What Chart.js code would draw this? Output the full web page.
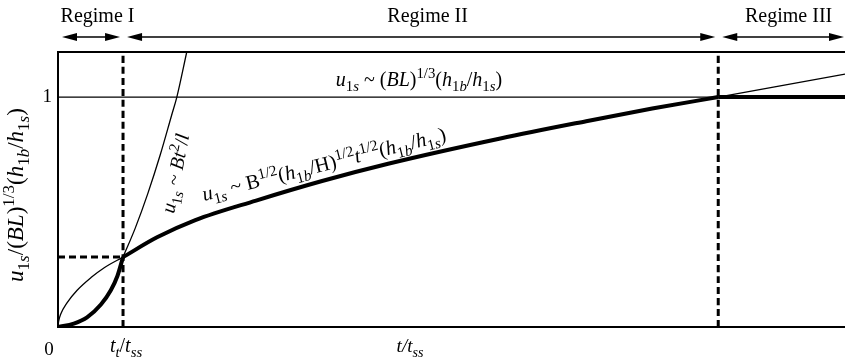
<!DOCTYPE html>
<html>
<head>
<meta charset="utf-8">
<script src="https://cdn.jsdelivr.net/npm/chart.js@4"></script>
<style>
  html, body { margin: 0; background: #fff; }
  canvas { display: block; }
</style>
</head>
<body>
<canvas id="chart" width="845" height="361"></canvas>
<script>
// time in units of t_ss, velocity in units of (BL)^1/3 (h1b/h1s)
const tTransition = 0.0985;
const tEnd = 1.192;
const uTransition = 0.304;
const uTop = 1.196;

const thickRegime1 = [[0, 0], [0.024, 0.015], [0.044, 0.042], [0.065, 0.098], [0.08, 0.16], [0.09, 0.222], [0.0985, 0.304]];
const thickRegime2 = [[0.0985, 0.304], [0.15, 0.39], [0.208, 0.465], [0.3, 0.55], [0.4, 0.635], [0.5, 0.71], [0.67, 0.82], [0.8, 0.895], [0.9, 0.95], [1, 1]];
const thickRegime3 = [[1, 1], [1.192, 1]];
const thinEarly = [[0, 0], [0.001, 0.025], [0.004, 0.055], [0.0136, 0.105], [0.029, 0.16], [0.05, 0.215], [0.07, 0.258], [0.0985, 0.304]];
const thinSteep = [[0.0985, 0.304], [0.117, 0.43], [0.136, 0.58], [0.155, 0.75], [0.172, 0.92], [0.18, 1.0], [0.195, 1.196]];
const thinLate = [[1, 1], [1.192, 1.1]];
const plateauLine = [[0, 1], [1.192, 1]];

const regimeLabels = ["Regime I", "Regime II", "Regime III"];
const regimeEdges = [0, 0.0985, 1, 1.192];

const FONT = '"Liberation Serif", "DejaVu Serif", serif';
const SMALL = 0.74;

// rich text runs: [text, "i" for italic, "b" subscript / "p" superscript]
const yTitle = [["u", "i"], ["1", "", "b"], ["s", "i", "b"], ["/(", ""], ["BL", "i"], [")", ""], ["1/3", "", "p"], ["(", ""], ["h", "i"], ["1", "", "b"], ["b", "i", "b"], ["/", ""], ["h", "i"], ["1", "", "b"], ["s", "i", "b"], [")", ""]];
const plateauLabel = [["u", "i"], ["1", "", "b"], ["s", "i", "b"], [" ~ (", ""], ["BL", "i"], [")", ""], ["1/3", "", "p"], ["(", ""], ["h", "i"], ["1", "", "b"], ["b", "i", "b"], ["/", ""], ["h", "i"], ["1", "", "b"], ["s", "i", "b"], [")", ""]];
const steepLabel = [["u", "i"], ["1", "", "b"], ["s", "i", "b"], [" ~ ", ""], ["Bt", "i"], ["2", "", "p"], ["/", ""], ["l", "i"]];
const sqrtLabel = [["u", "i"], ["1", "", "b"], ["s", "i", "b"], [" ~ B", ""], ["1/2", "", "p"], ["(", ""], ["h", "i"], ["1", "", "b"], ["b", "i", "b"], ["/H)", ""], ["1/2", "", "p"], ["t", "i"], ["1/2", "", "p"], ["(", ""], ["h", "i"], ["1", "", "b"], ["b", "i", "b"], ["/", ""], ["h", "i"], ["1", "", "b"], ["s", "i", "b"], [")", ""]];
const xTickLabel = [["t", "i"], ["t", "i", "b"], ["/", ""], ["t", "i"], ["ss", "i", "b"]];
const xTitle = [["t/t", "i"], ["ss", "i", "b"]];

const toPoints = (pairs) => pairs.map(([x, y]) => ({ x, y }));

const curve = (pairs, width, dash) => ({
  data: toPoints(pairs),
  borderColor: "#000",
  borderWidth: width,
  borderDash: dash || [],
  pointRadius: 0,
  cubicInterpolationMode: "monotone",
  fill: false,
});

const runFont = (style, size) => `${style === "i" ? "italic " : ""}${size}px ${FONT}`;

const measureRuns = function (ctx, runs, size) {
  let w = 0;
  runs.forEach(([t, style, pos]) => {
    ctx.font = runFont(style, pos ? size * SMALL : size);
    w += ctx.measureText(t).width;
  });
  return w;
};

const drawRuns = function (ctx, runs, x, y, size) {
  let cx = x;
  ctx.textAlign = "left";
  ctx.textBaseline = "alphabetic";
  runs.forEach(([t, style, pos]) => {
    ctx.font = runFont(style, pos ? size * SMALL : size);
    const dy = pos === "b" ? size * 0.26 : pos === "p" ? -size * 0.38 : 0;
    ctx.fillText(t, cx, y + dy);
    cx += ctx.measureText(t).width;
  });
};

const drawRunsCentered = function (ctx, runs, x, y, size) {
  drawRuns(ctx, runs, x - measureRuns(ctx, runs, size) / 2, y, size);
};

const arrowHead = function (ctx, x, y, dir) {
  ctx.beginPath();
  ctx.moveTo(x, y);
  ctx.lineTo(x - dir * 15, y - 4);
  ctx.lineTo(x - dir * 15, y + 4);
  ctx.closePath();
  ctx.fill();
};

const doubleArrow = function (ctx, x1, x2, y) {
  ctx.beginPath();
  ctx.moveTo(x1 + 4, y);
  ctx.lineTo(x2 - 4, y);
  ctx.lineWidth = 1.6;
  ctx.stroke();
  arrowHead(ctx, x1, y, -1);
  arrowHead(ctx, x2, y, 1);
};

const annotations = {
  id: "annotations",
  afterDraw(chart) {
    const { ctx, chartArea: area, scales } = chart;
    const xs = scales.x;
    const ys = scales.y;
    ctx.save();
    ctx.strokeStyle = "#000";
    ctx.fillStyle = "#000";

    // frame: top, left and bottom edges
    ctx.lineWidth = 2;
    ctx.beginPath();
    ctx.moveTo(area.right, area.top);
    ctx.lineTo(area.left, area.top);
    ctx.lineTo(area.left, area.bottom);
    ctx.lineTo(area.right, area.bottom);
    ctx.stroke();

    // regime headers
    regimeLabels.forEach((label, i) => {
      const x1 = xs.getPixelForValue(regimeEdges[i]);
      const x2 = xs.getPixelForValue(regimeEdges[i + 1]);
      const last = i === regimeLabels.length - 1;
      doubleArrow(ctx, x1 + 4, last ? x2 - 1 : x2 - 3, 37);
      ctx.font = `20px ${FONT}`;
      ctx.textAlign = "center";
      ctx.textBaseline = "alphabetic";
      ctx.fillText(label, (x1 + x2) / 2 + 7, 22);
    });

    // tick labels
    ctx.font = `19px ${FONT}`;
    ctx.textAlign = "right";
    ctx.textBaseline = "middle";
    ctx.fillText("1", area.left - 6, ys.getPixelForValue(1));
    ctx.textAlign = "center";
    ctx.textBaseline = "alphabetic";
    ctx.fillText("0", area.left - 9, 355);
    drawRunsCentered(ctx, xTickLabel, xs.getPixelForValue(tTransition) + 3, 352, 20);
    drawRunsCentered(ctx, xTitle, 410, 352, 19);

    // y axis title
    ctx.save();
    ctx.translate(23, 195);
    ctx.rotate(-Math.PI / 2);
    drawRunsCentered(ctx, yTitle, 0, 0, 23);
    ctx.restore();

    // curve labels
    drawRunsCentered(ctx, plateauLabel, 419, 86, 20);

    ctx.save();
    ctx.translate(174, 214);
    ctx.rotate(-79 * Math.PI / 180);
    drawRuns(ctx, steepLabel, 0, 0, 20);
    ctx.restore();

    ctx.save();
    ctx.translate(204, 201);
    ctx.rotate(-14 * Math.PI / 180);
    drawRuns(ctx, sqrtLabel, 0, 0, 20.5);
    ctx.restore();

    ctx.restore();
  },
};

new Chart(document.getElementById("chart"), {
  type: "line",
  data: {
    datasets: [
      curve(thickRegime1, 4),
      curve(thickRegime2, 4),
      curve(thickRegime3, 4),
      curve(thinEarly, 1.3),
      curve(thinSteep, 1.3),
      curve(thinLate, 1.3),
      curve(plateauLine, 1.2),
      curve([[tTransition, 0], [tTransition, uTop]], 3, [7, 4]),
      curve([[1, 0], [1, uTop]], 3, [7, 4]),
      curve([[0, uTransition], [tTransition, uTransition]], 3, [7, 4]),
    ],
  },
  options: {
    responsive: false,
    animation: false,
    devicePixelRatio: 1,
    layout: {
      padding: { left: 58, top: 52, right: 0, bottom: 34 },
    },
    scales: {
      x: { type: "linear", min: 0, max: tEnd, display: false },
      y: { type: "linear", min: 0, max: uTop, display: false },
    },
    plugins: {
      legend: { display: false },
      tooltip: { enabled: false },
    },
  },
  plugins: [annotations],
});
</script>
</body>
</html>
